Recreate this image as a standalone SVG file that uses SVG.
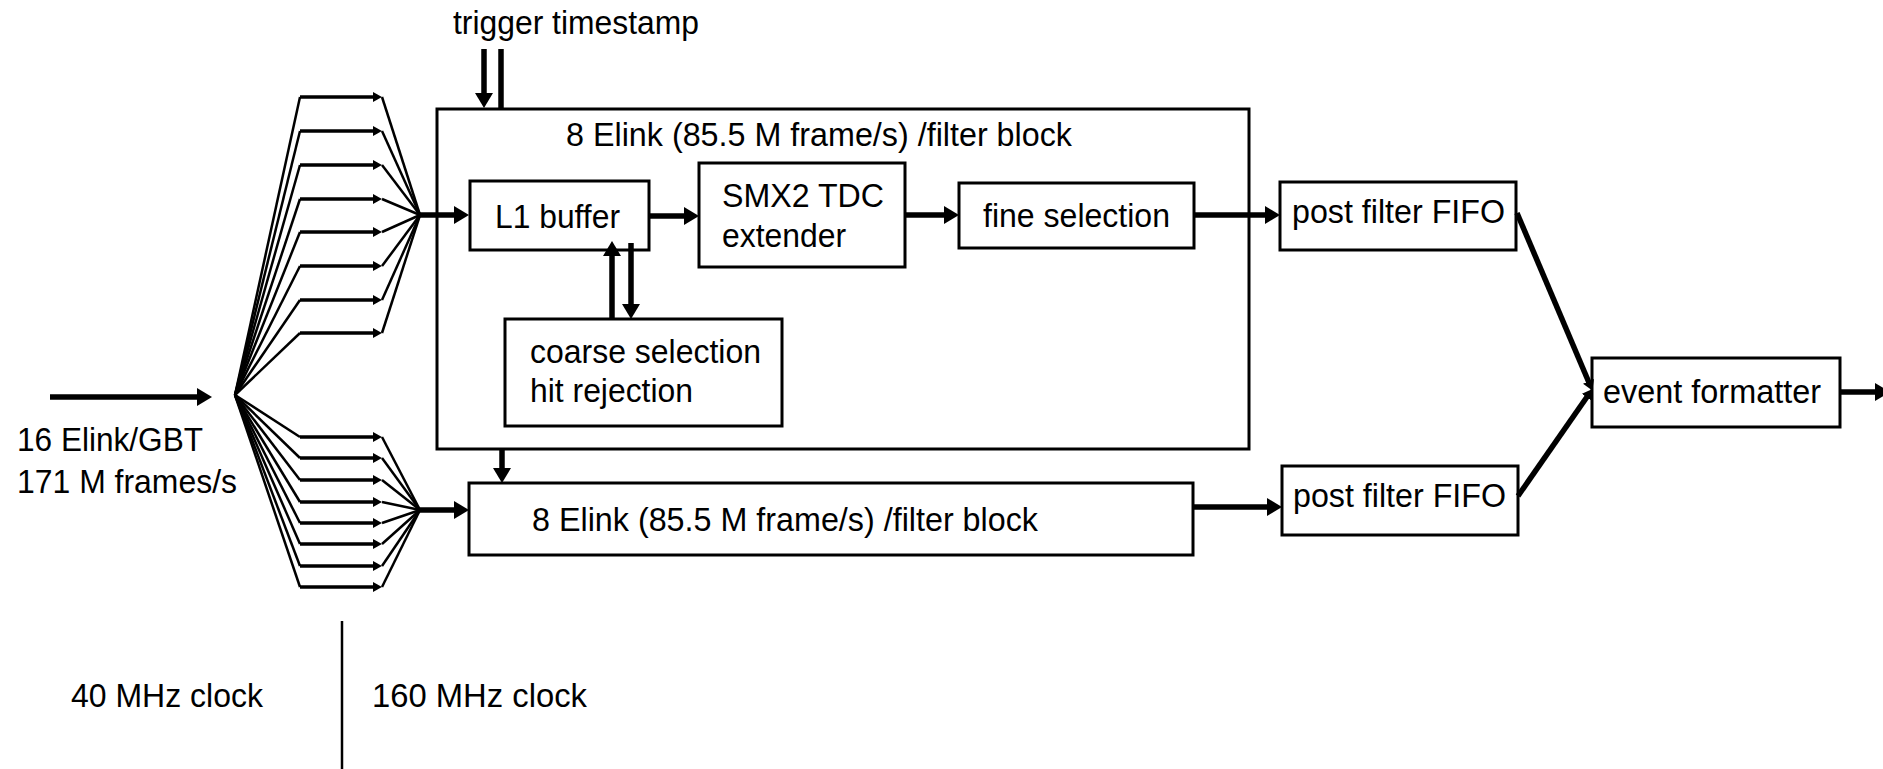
<svg xmlns="http://www.w3.org/2000/svg" width="1883" height="769" viewBox="0 0 1883 769">
<style>
.box{fill:#fff;stroke:#000;stroke-width:3}
.t{font-family:"Liberation Sans",Arial,sans-serif;font-size:34px;fill:#000}
.thick{stroke:#000;stroke-width:5.5;fill:none}
.fan{stroke:#000;stroke-width:2.5;fill:none}
.hl{stroke:#000;stroke-width:3.5;fill:none}
</style>
<defs>
<marker id="ah" viewBox="0 0 15 18" refX="7" refY="9" markerWidth="15" markerHeight="18" markerUnits="userSpaceOnUse" orient="auto"><path d="M0,0 L15,9 L0,18 z" fill="#000"/></marker>
<marker id="as" viewBox="0 0 9 10" refX="4" refY="5" markerWidth="9" markerHeight="10" markerUnits="userSpaceOnUse" orient="auto"><path d="M0,0 L9,5 L0,10 z" fill="#000"/></marker>
<marker id="am" viewBox="0 0 10 12" refX="4" refY="6" markerWidth="10" markerHeight="12" markerUnits="userSpaceOnUse" orient="auto"><path d="M0,0 L10,6 L0,12 z" fill="#000"/></marker>
</defs>
<rect width="1883" height="769" fill="#fff"/>

<g id="main-block"><rect class="box" x="437" y="109" width="812" height="340"/><text class="t" x="566" y="146" textLength="506" lengthAdjust="spacingAndGlyphs">8 Elink (85.5 M frame/s) /filter block</text></g>
<g id="l1-buffer"><rect class="box" x="470" y="181" width="179" height="69"/><text class="t" x="495" y="228" textLength="125" lengthAdjust="spacingAndGlyphs">L1 buffer</text></g>
<g id="smx2"><rect class="box" x="699" y="163" width="206" height="104"/><text class="t" x="722" y="207" textLength="162" lengthAdjust="spacingAndGlyphs">SMX2 TDC</text><text class="t" x="722" y="247" textLength="124" lengthAdjust="spacingAndGlyphs">extender</text></g>
<g id="fine-selection"><rect class="box" x="959" y="183" width="235" height="65"/><text class="t" x="983" y="227" textLength="187" lengthAdjust="spacingAndGlyphs">fine selection</text></g>
<g id="coarse-selection"><rect class="box" x="505" y="319" width="277" height="107"/><text class="t" x="530" y="363" textLength="231" lengthAdjust="spacingAndGlyphs">coarse selection</text><text class="t" x="530" y="402" textLength="163" lengthAdjust="spacingAndGlyphs">hit rejection</text></g>
<g id="lower-block"><rect class="box" x="469" y="483" width="724" height="72"/><text class="t" x="532" y="531" textLength="506" lengthAdjust="spacingAndGlyphs">8 Elink (85.5 M frame/s) /filter block</text></g>
<g id="fifo-upper"><rect class="box" x="1280" y="182" width="236" height="68"/><text class="t" x="1292" y="223" textLength="213" lengthAdjust="spacingAndGlyphs">post filter FIFO</text></g>
<g id="fifo-lower"><rect class="box" x="1282" y="466" width="236" height="69"/><text class="t" x="1293" y="507" textLength="213" lengthAdjust="spacingAndGlyphs">post filter FIFO</text></g>
<g id="event-formatter"><rect class="box" x="1592" y="358" width="248" height="69"/><text class="t" x="1603" y="403" textLength="218" lengthAdjust="spacingAndGlyphs">event formatter</text></g>

<g id="labels">
<text class="t" x="453" y="34" textLength="246" lengthAdjust="spacingAndGlyphs">trigger timestamp</text>
<text class="t" x="17" y="451" textLength="186" lengthAdjust="spacingAndGlyphs">16 Elink/GBT</text>
<text class="t" x="17" y="493" textLength="220" lengthAdjust="spacingAndGlyphs">171 M frames/s</text>
<text class="t" x="71" y="707" textLength="192" lengthAdjust="spacingAndGlyphs">40 MHz clock</text>
<text class="t" x="372" y="707" textLength="215" lengthAdjust="spacingAndGlyphs">160 MHz clock</text>
</g>

<g id="connectors">
<line class="thick" x1="50" y1="397" x2="204" y2="397" stroke-width="6" marker-end="url(#ah)"/>
<g id="fan-upper">
<polyline class="fan" points="235,395 300,97"/><line class="hl" x1="300" y1="97" x2="377" y2="97" marker-end="url(#as)"/><polyline class="fan" points="382,97 420,215"/>
<polyline class="fan" points="235,395 300,131"/><line class="hl" x1="300" y1="131" x2="377" y2="131" marker-end="url(#as)"/><polyline class="fan" points="382,131 420,215"/>
<polyline class="fan" points="235,395 300,165"/><line class="hl" x1="300" y1="165" x2="377" y2="165" marker-end="url(#as)"/><polyline class="fan" points="382,165 420,215"/>
<polyline class="fan" points="235,395 300,199"/><line class="hl" x1="300" y1="199" x2="377" y2="199" marker-end="url(#as)"/><polyline class="fan" points="382,199 420,215"/>
<polyline class="fan" points="235,395 300,232"/><line class="hl" x1="300" y1="232" x2="377" y2="232" marker-end="url(#as)"/><polyline class="fan" points="382,232 420,215"/>
<polyline class="fan" points="235,395 300,266"/><line class="hl" x1="300" y1="266" x2="377" y2="266" marker-end="url(#as)"/><polyline class="fan" points="382,266 420,215"/>
<polyline class="fan" points="235,395 300,300"/><line class="hl" x1="300" y1="300" x2="377" y2="300" marker-end="url(#as)"/><polyline class="fan" points="382,300 420,215"/>
<polyline class="fan" points="235,395 300,333"/><line class="hl" x1="300" y1="333" x2="377" y2="333" marker-end="url(#as)"/><polyline class="fan" points="382,333 420,215"/>
</g>
<g id="fan-lower">
<polyline class="fan" points="235,395 300,437"/><line class="hl" x1="300" y1="437" x2="377" y2="437" marker-end="url(#as)"/><polyline class="fan" points="382,437 420,510"/>
<polyline class="fan" points="235,395 300,458"/><line class="hl" x1="300" y1="458" x2="377" y2="458" marker-end="url(#as)"/><polyline class="fan" points="382,458 420,510"/>
<polyline class="fan" points="235,395 300,480"/><line class="hl" x1="300" y1="480" x2="377" y2="480" marker-end="url(#as)"/><polyline class="fan" points="382,480 420,510"/>
<polyline class="fan" points="235,395 300,502"/><line class="hl" x1="300" y1="502" x2="377" y2="502" marker-end="url(#as)"/><polyline class="fan" points="382,502 420,510"/>
<polyline class="fan" points="235,395 300,523"/><line class="hl" x1="300" y1="523" x2="377" y2="523" marker-end="url(#as)"/><polyline class="fan" points="382,523 420,510"/>
<polyline class="fan" points="235,395 300,544"/><line class="hl" x1="300" y1="544" x2="377" y2="544" marker-end="url(#as)"/><polyline class="fan" points="382,544 420,510"/>
<polyline class="fan" points="235,395 300,566"/><line class="hl" x1="300" y1="566" x2="377" y2="566" marker-end="url(#as)"/><polyline class="fan" points="382,566 420,510"/>
<polyline class="fan" points="235,395 300,587"/><line class="hl" x1="300" y1="587" x2="377" y2="587" marker-end="url(#as)"/><polyline class="fan" points="382,587 420,510"/>
</g>
<line class="thick" x1="420" y1="215" x2="461" y2="215" marker-end="url(#ah)"/>
<line class="thick" x1="420" y1="510" x2="461" y2="510" marker-end="url(#ah)"/>
<line class="thick" x1="649" y1="216" x2="691" y2="216" marker-end="url(#ah)"/>
<line class="thick" x1="905" y1="215" x2="951" y2="215" marker-end="url(#ah)"/>
<line class="thick" x1="1194" y1="215" x2="1272" y2="215" marker-end="url(#ah)"/>
<line class="thick" x1="484" y1="49" x2="484" y2="100" marker-end="url(#ah)"/>
<line class="thick" x1="501" y1="49" x2="501" y2="109"/>
<line class="thick" x1="502" y1="450" x2="502" y2="475" marker-end="url(#ah)"/>
<line class="thick" x1="612" y1="319" x2="612" y2="249" marker-end="url(#ah)"/>
<line class="thick" x1="631" y1="243" x2="631" y2="311" marker-end="url(#ah)"/>
<line class="thick" x1="1193" y1="507" x2="1274" y2="507" marker-end="url(#ah)"/>
<line class="thick" x1="1517" y1="213" x2="1590" y2="385" marker-end="url(#am)"/>
<line class="thick" x1="1518" y1="496" x2="1589" y2="394" marker-end="url(#am)"/>
<line class="thick" x1="1840" y1="392" x2="1882" y2="392" marker-end="url(#ah)"/>
<line x1="342" y1="621" x2="342" y2="769" stroke="#000" stroke-width="2.5"/>
</g>
</svg>
